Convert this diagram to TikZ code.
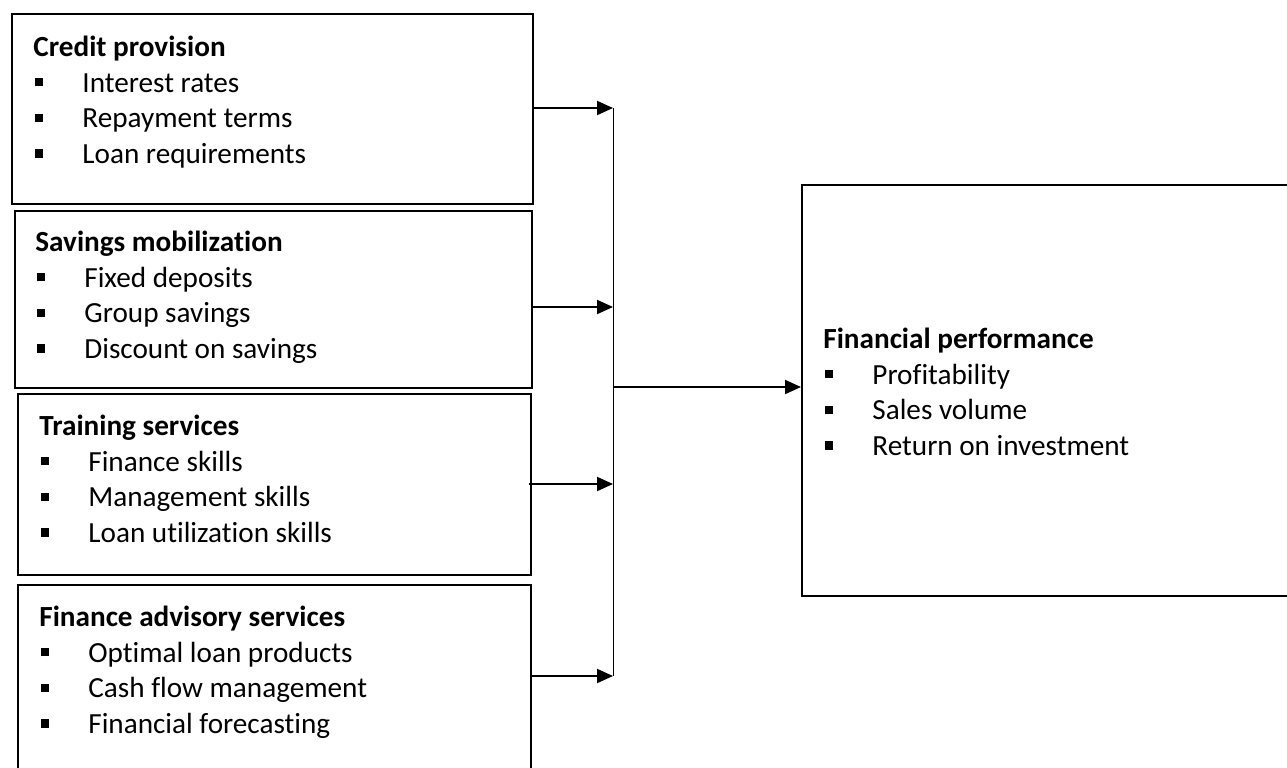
\documentclass[tikz,border=0pt]{standalone}
\usepackage{fontspec}
\setmainfont{Carlito}[Ligatures=NoCommon]
\usetikzlibrary{arrows.meta}
% square bullet followed by the item indent
\newcommand{\sqbul}{\hspace{1pt}\makebox[23.5pt][l]{\rule[2.8pt]{4pt}{4.2pt}}}
\newcommand{\firstline}{\rule{0pt}{12pt}}
\begin{document}
\begin{tikzpicture}[x=0.5pt,y=-0.5pt,
  panel/.style={draw=black,line width=1pt,rectangle,anchor=north west,inner sep=0pt},
  itemtext/.style={anchor=north west,inner sep=0pt,align=left,
    font=\fontsize{14.6}{17.8}\selectfont},
  feed/.style={line width=1pt,-{Triangle[length=8pt,width=7pt]}},
  spine/.style={line width=0.5pt}]
\useasboundingbox (0,0) rectangle (1287,767);
\clip (0,0) rectangle (1287,767);

% input panels
\node[panel,minimum width=260.5pt,minimum height=95pt] (credit) at (11,13) {};
\node[panel,minimum width=258.5pt,minimum height=88.5pt] (savings) at (14,210) {};
\node[panel,minimum width=256.5pt,minimum height=90.5pt] (training) at (17,393) {};
\node[panel,minimum width=256.5pt,minimum height=93pt] (advisory) at (17,584) {};
% outcome panel
\node[panel,minimum width=249.5pt,minimum height=205.5pt] (perf) at (801,184) {};

% panel texts
\node[itemtext] (creditT) at (33,32) {\firstline\textbf{Credit provision}\\
  \sqbul Interest rates\\ \sqbul Repayment terms\\ \sqbul Loan requirements};
\node[itemtext] (savingsT) at (35,227) {\firstline\textbf{Savings mobilization}\\
  \sqbul Fixed deposits\\ \sqbul Group savings\\ \sqbul Discount on savings};
\node[itemtext] (trainingT) at (39,411) {\firstline\textbf{Training services}\\
  \sqbul Finance skills\\ \sqbul Management skills\\ \sqbul Loan utilization skills};
\node[itemtext] (advisoryT) at (39,602) {\firstline\textbf{Finance advisory services}\\
  \sqbul Optimal loan products\\ \sqbul Cash flow management\\ \sqbul Financial forecasting};
\node[itemtext] (perfT) at (823,324) {\firstline\textbf{Financial performance}\\
  \sqbul Profitability\\ \sqbul Sales volume\\ \sqbul Return on investment};

% junction points on the collecting line
\coordinate (j1) at (613,108);
\coordinate (j2) at (613,307);
\coordinate (j3) at (613,484);
\coordinate (j4) at (613,676);
\coordinate (jm) at (613,387);

\draw[feed] (credit.east |- j1) -- (j1);
\draw[feed] (savings.east |- j2) -- (j2);
\draw[feed] ([xshift=-1.5pt]training.east |- j3) -- (j3);
\draw[feed] (advisory.east |- j4) -- (j4);
\draw[spine] (j1) -- (j4);
\draw[feed] (jm) -- (perf.west |- jm);
\end{tikzpicture}
\end{document}
